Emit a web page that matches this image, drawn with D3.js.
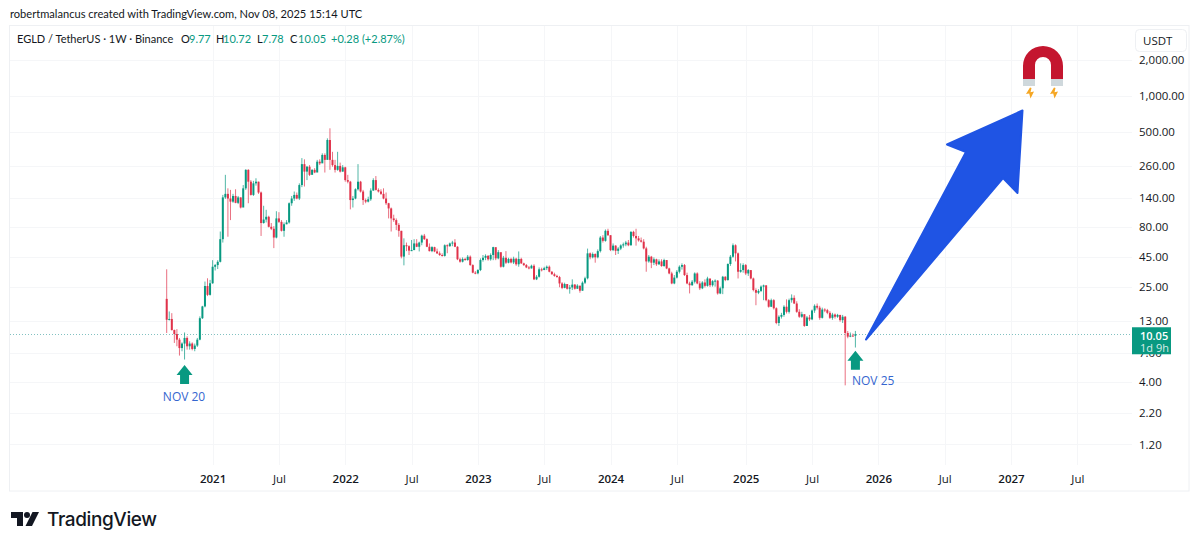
<!DOCTYPE html>
<html>
<head>
  <title>EGLD / TetherUS</title>
  <script src="https://d3js.org/d3.v7.min.js"></script>
  <style>
    html, body { margin: 0; padding: 0; background: #fff; }
    svg { display: block; font-family: "Open Sans", sans-serif; }
    .axis path, .axis line { display: none; }
    .axis text { font-family: "Open Sans", sans-serif; font-size: 11.5px; fill: #131722; }
  </style>
</head>
<body>
  <div id="chart"></div>
  <script>
    // weekly candles. open = previous close
    const firstWeek = new Date(2020, 7, 31);
    const firstOpen = 19.9;
    const closes = [
      13.3,13.5,10.9,10.1,9.06,7.7,8.4,9.36,7.97,8.4,
      7.57,8.08,9.06,13.7,17.2,25.5,21.5,26.9,37,38.2,
      40.7,63,141,151,138,130,145,127,141,116,
      168,240,191,148,185,191,155,86,92,97,
      80,77,65,94,88,74,84,87,126,138,
      148,138,179,268,232,255,218,240,228,281,
      272,320,291,427,291,263,240,259,232,252,
      197,191,134,138,165,191,158,134,130,136,
      161,197,163,158,151,138,126,114,94,91,
      83,74,45,56,55,50.5,51,58,54.4,59,
      67.4,63,54.4,50,54,49.7,47.9,46.4,45.6,56,
      55,58,59,54.4,42.7,40.8,43,42.1,44.9,38.2,
      33,32.6,34.7,42.1,44,45.6,42.7,46.4,54,43.5,
      49,37,44,40,43,40.2,43.2,38.8,43,39.5,
      38.2,36.5,35.8,37.7,29,30.5,35.2,34.7,36,37,
      33.6,32,31,30.3,26.8,24.6,26.5,24.2,24.8,26.2,
      24.2,25.7,23.3,27.2,29.6,47.9,44.4,47.3,44.4,50,
      65,61,74,68,51,55.6,50.3,52.5,55.8,57,
      59,56,72.5,67,64,61.5,60,52.7,41,44.9,
      40,42.7,38.8,41,37.5,42.1,35.8,32.5,26.8,30,
      33.6,37,38.2,31.5,26.8,25.9,27.7,32.5,26.8,24.4,
      27.3,25.6,29.5,25.9,28,28.3,22.1,24.4,30.5,28.6,
      39,44.9,56,47.9,33.6,34.7,38.2,32.5,34.7,29.5,
      23.6,22.4,23.2,25.2,25.8,19.4,17.1,19.4,16.6,12.5,
      14.1,14.6,17.1,15.5,19.4,20.3,18.2,15.5,14.1,14.8,
      11.8,13.9,13.4,15.9,17.4,16.8,13.8,16.2,16,15.2,
      13.8,14.7,14.1,14.6,13.2,14.1,10.3,9.6,9.8,9.77,10.05
    ];
    const highs = [
      35.2,15.6,15.1,11,11.1,9.36,8.6,10.4,9.66,8.77,
      8.6,8.4,9.36,14.2,17.4,27.8,29.6,28.7,42,39,
      42,73,148,218,168,163,151,165,145,141,
      179,243,243,197,194,204,191,158,120,111,
      99,86,81,108,106,91,87,91,128,145,
      158,155,185,301,294,259,263,243,248,291,
      294,330,330,441,535,340,291,340,276,263,
      255,218,194,145,168,268,194,163,138,143,
      168,204,213,168,165,168,155,127,116,101,
      94,86,74,64,59,56,62,63,63,60,
      68.7,69.7,64,58,55,54.4,52.5,49.7,47.9,57,
      57,59,61,63,55,44,44.3,44,46.4,46,
      38.8,34,35.3,43.5,46.4,47,46.4,47.9,54.4,52.5,
      51,44,45.6,50,44,44,44.9,44,49.7,44,
      40,39,37.5,38.5,38.8,31.5,36.5,36.3,37,37.9,
      37.9,34,33,31.7,31,27.5,27.2,25.5,26,29,
      26.5,26.4,25.5,27.9,30.5,52.5,48.7,48.7,47.9,51.7,
      67,68,76,77,68,58,56,54,57,59,
      61,62,73.5,74,77,67,65,63,54.4,46.4,
      45.6,44.3,43.2,42.7,42.7,43.2,42,36.3,33.6,31.5,
      34.7,38,39.5,39,33,27.7,28.6,33.2,33.2,28,
      28,29,30.5,29.2,28.6,29,28.6,25.2,31,30.8,
      39.5,46.4,58,57,48.7,39.5,39.5,39,35.4,34,
      30,24.4,24,25.8,26.2,26,19.8,20,19.8,16.9,
      14.5,15.2,17.6,19.7,20,21.7,21.3,19,16.3,15.5,
      14.7,14.3,14.6,16.2,17.9,18.2,17.4,16.8,16.6,16.4,
      15.7,15.2,15,14.9,14.6,14.6,14.3,10.7,10.4,10.2,10.72
    ];
    const lows = [
      10.3,13.1,10.8,8.5,7.97,6.66,7.24,6.17,7.47,7.47,
      7.37,7.24,7.87,8.95,13.5,16.9,21,21.2,26.6,34.4,
      35.4,40.2,59,137,66,91,127,126,124,114,
      136,163,126,146,145,177,151,67,85,87,
      79,75,53,64,86,73,66,84,85,120,
      132,136,134,172,174,197,213,228,225,230,
      263,276,228,314,240,255,228,236,228,232,
      191,185,112,116,136,161,155,122,126,128,
      132,160,161,155,148,136,122,94,73,88,
      75,66,43.5,38,50,46.4,50,51,54,49.7,
      56,62,54,49.7,49,49,47.3,45.6,45,45,
      48,54.4,55,54,42,40,40.2,41.6,41.6,37.7,
      32.6,32,32,34,40.8,42,41.6,41.6,42,42,
      42.7,36.3,36.5,39,39.5,39.5,39,37.7,37,39,
      37.5,36,35.2,35.8,28.6,28.6,30,33.8,34.7,34.7,
      33.2,31.7,30.5,30,24.9,24,24.4,23.8,22,23.6,
      23.8,24.2,22.4,23.3,26.5,29,42.7,43.5,40,43.5,
      48.7,59,60,67,50,50,46.4,47.3,51,53.5,
      55,55,55.6,65,55.6,60,59,51.7,33.6,40,
      36,38.2,37.6,38.2,37,37,35.3,32,26.4,26.4,
      29.5,32.5,35,31,26.4,22.1,25.6,26.8,26.4,23.6,
      24,24.8,25.2,25,25.2,25.2,21.6,21.8,21.8,28,
      28.3,37.6,44,41,29.5,33,33,31.5,31,29,
      23,17.6,21.8,22.7,19.4,19,16.8,17,16.2,12.2,
      11.8,13.6,14.1,15,15,18.5,18,15.2,13.8,13.8,
      11.6,11.9,13,13.2,15.2,16.2,13.3,13.6,15.4,14.8,
      13.5,13.3,13.6,13.8,12.8,12.5,3.75,9.3,9.5,9.6,7.78
    ];

    const priceTicks = [2000, 1000, 500, 260, 140, 80, 45, 25, 13, 7, 4, 2.2, 1.2];
    const lastPrice = 10.05;

    const timeTicks = [
      [new Date(2021, 0, 4), "2021"], [new Date(2021, 6, 5), "Jul"],
      [new Date(2022, 0, 3), "2022"], [new Date(2022, 6, 4), "Jul"],
      [new Date(2023, 0, 2), "2023"], [new Date(2023, 6, 3), "Jul"],
      [new Date(2024, 0, 1), "2024"], [new Date(2024, 6, 1), "Jul"],
      [new Date(2025, 0, 6), "2025"], [new Date(2025, 6, 7), "Jul"],
      [new Date(2026, 0, 5), "2026"], [new Date(2026, 6, 6), "Jul"],
      [new Date(2027, 0, 4), "2027"], [new Date(2027, 6, 5), "Jul"]
    ];

    // "NOV 20" and "NOV 25" markers: week, price under the arrow tip
    const markers = [
      { date: new Date(2020, 9, 19), tip: 5.55, label: "NOV 20" },
      { date: new Date(2025, 10, 3), tip: 7.3, label: "NOV 25" }
    ];

    const legendParts = [
      ["EGLD / TetherUS \u00b7 1W \u00b7 Binance", "#131722", 17],
      ["O", "#131722", 181], ["9.77", "#089981", 189],
      ["H", "#131722", 216], ["10.72", "#089981", 223],
      ["L", "#131722", 257], ["7.78", "#089981", 262],
      ["C", "#131722", 290], ["10.05", "#089981", 298],
      ["+0.28 (+2.87%)", "#089981", 331]
    ];

    const width = 1200, height = 547;
    const plotLeft = 10, plotRight = 1132, plotTop = 26, plotBottom = 465, frameRight = 1189, frameBottom = 491;
    const up = "#089981", down = "#e0324a";
    const labelFont = "Lato, sans-serif";

    const x = d3.scaleTime()
      .domain([firstWeek, new Date(2027, 0, 4)])
      .range([166.7, 1011]);
    const y = d3.scaleLog()
      .domain([2000, 4])
      .range([60, 382]);

    const candles = closes.map((c, i) => ({
      date: d3.timeWeek.offset(firstWeek, i),
      open: i ? closes[i - 1] : firstOpen,
      close: c,
      high: highs[i],
      low: lows[i]
    }));

    const svg = d3.select("#chart").append("svg")
      .attr("width", width)
      .attr("height", height);

    svg.append("text").attr("x", 10).attr("y", 18)
      .attr("font-family", labelFont)
      .attr("font-size", 11.1).attr("fill", "#131722")
      .text("robertmalancus created with TradingView.com, Nov 08, 2025 15:14 UTC");

    // frame
    svg.append("rect")
      .attr("x", 9.5).attr("y", 25.5)
      .attr("width", frameRight - 9.5).attr("height", frameBottom - 25.5)
      .attr("fill", "none").attr("stroke", "#eef0f3");

    // grid
    svg.append("g").selectAll("line").data(priceTicks).join("line")
      .attr("x1", plotLeft).attr("x2", plotRight)
      .attr("y1", d => Math.round(y(d)) + 0.5).attr("y2", d => Math.round(y(d)) + 0.5)
      .attr("stroke", "#f5f6f8");
    svg.append("g").selectAll("line").data(timeTicks).join("line")
      .attr("x1", d => Math.round(x(d[0])) + 0.5).attr("x2", d => Math.round(x(d[0])) + 0.5)
      .attr("y1", plotTop).attr("y2", plotBottom)
      .attr("stroke", "#f5f6f8");

    // last price line
    svg.append("line")
      .attr("x1", plotLeft).attr("x2", plotRight)
      .attr("y1", Math.round(y(lastPrice)) + 0.5).attr("y2", Math.round(y(lastPrice)) + 0.5)
      .attr("stroke", "#3f9fa0").attr("stroke-opacity", 0.65)
      .attr("stroke-dasharray", "1 2");

    // candles
    const candle = svg.append("g").selectAll("g").data(candles).join("g");
    candle.append("line")
      .attr("x1", d => x(d.date)).attr("x2", d => x(d.date))
      .attr("y1", d => y(d.high)).attr("y2", d => y(d.low))
      .attr("stroke", d => d.close >= d.open ? up : down)
      .attr("stroke-opacity", 0.7)
      .attr("stroke-width", 1);
    candle.append("rect")
      .attr("x", d => x(d.date) - 1)
      .attr("width", 2)
      .attr("y", d => Math.min(y(d.open), y(d.close)))
      .attr("height", d => Math.max(1, Math.abs(y(d.open) - y(d.close))))
      .attr("fill", d => d.close >= d.open ? up : down);

    // legend line
    svg.append("g").selectAll("text").data(legendParts).join("text")
      .attr("x", d => d[2]).attr("y", 43)
      .attr("font-family", labelFont)
      .attr("font-size", 11)
      .attr("fill", d => d[1])
      .text(d => d[0]);

    // price axis
    const priceAxis = d3.axisRight(y)
      .tickValues(priceTicks)
      .tickSize(0)
      .tickPadding(0)
      .tickFormat(d3.format(",.2f"));
    svg.append("g").attr("class", "axis")
      .attr("transform", "translate(1139,0)")
      .call(priceAxis);

    // time axis
    const labelFor = new Map(timeTicks.map(d => [+d[0], d[1]]));
    const timeAxis = d3.axisBottom(x)
      .tickValues(timeTicks.map(d => d[0]))
      .tickSize(0)
      .tickPadding(0)
      .tickFormat(d => labelFor.get(+d));
    const timeG = svg.append("g").attr("class", "axis")
      .attr("transform", "translate(0,475)")
      .call(timeAxis);
    timeG.selectAll("text")
      .attr("font-weight", (d, i) => i % 2 ? 400 : 600);

    // USDT box
    svg.append("rect")
      .attr("x", 1135.5).attr("y", 29.5).attr("width", 51).attr("height", 22).attr("rx", 4)
      .attr("fill", "#fff").attr("stroke", "#eef0f3");
    svg.append("text").attr("x", 1143).attr("y", 45)
      .attr("font-size", 11.5).attr("fill", "#131722").text("USDT");

    // price tag
    svg.append("rect")
      .attr("x", 1132).attr("y", y(lastPrice) - 7).attr("width", 39).attr("height", 27)
      .attr("fill", up);
    svg.append("text").attr("x", 1140).attr("y", y(lastPrice) + 5.5)
      .attr("font-size", 11).attr("font-weight", 600).attr("fill", "#fff")
      .text(d3.format(".2f")(lastPrice));
    svg.append("text").attr("x", 1140).attr("y", y(lastPrice) + 17.5)
      .attr("font-size", 11).attr("fill", "#fff").attr("fill-opacity", 0.85)
      .text("1d 9h");

    // green arrows under the candles
    const marker = svg.append("g").selectAll("g").data(markers).join("g")
      .attr("transform", d => `translate(${x(d.date)},${y(d.tip)})`);
    marker.append("path")
      .attr("d", "M0,0 L8,10 L4.5,10 L4.5,19 L-4.5,19 L-4.5,10 L-8,10 Z")
      .attr("fill", up);
    svg.append("text")
      .attr("x", x(markers[0].date) - 0.5).attr("y", 401)
      .attr("text-anchor", "middle").attr("font-size", 12).attr("font-weight", 500).attr("fill", "#3566cf")
      .text(markers[0].label);
    svg.append("text")
      .attr("x", 852).attr("y", 385)
      .attr("font-size", 12).attr("font-weight", 500).attr("fill", "#3566cf")
      .text(markers[1].label);

    // big blue arrow
    svg.append("path")
      .attr("d", "M866,339.5 L966,152 L947,144.5 L1022.5,110.5 L1017.5,193 L1003,178 Z")
      .attr("fill", "#1f54e4")
      .attr("stroke", "#1f54e4").attr("stroke-width", 2).attr("stroke-linejoin", "round");

    // magnet
    const magnet = svg.append("g");
    magnet.append("path")
      .attr("d", "M1023,79 L1023,66 A20,20 0 0 1 1063,66 L1063,79 L1051,79 L1051,65 A8,8 0 0 0 1035,65 L1035,79 Z")
      .attr("fill", "#c4162f");
    magnet.append("rect").attr("x", 1023).attr("y", 79).attr("width", 12).attr("height", 7).attr("fill", "#cfd8dc");
    magnet.append("rect").attr("x", 1051).attr("y", 79).attr("width", 12).attr("height", 7).attr("fill", "#cfd8dc");
    magnet.selectAll(".bolt").data([1030, 1054]).join("path")
      .attr("class", "bolt")
      .attr("transform", d => `translate(${d},93)`)
      .attr("d", "M0,-5.5 L-4,1 L-0.8,0.4 L0.5,5.5 L4,-1.5 L0.5,-0.8 L1.5,-5 Z")
      .attr("fill", "#f5a623");

    // TradingView logo
    const logo = svg.append("g").attr("fill", "#131722");
    logo.append("path").attr("d", "M11,512 L23,512 L23,526 L17,526 L17,518 L11,518 Z");
    logo.append("circle").attr("cx", 27).attr("cy", 515).attr("r", 3);
    logo.append("path").attr("d", "M32.5,512 L39,512 L32,526 L25.5,526 Z");
    logo.append("text")
      .attr("x", 47).attr("y", 526)
      .attr("font-family", "Inter, sans-serif").attr("font-size", 19).attr("font-weight", 500)
      .attr("letter-spacing", -0.4)
      .text("TradingView");
  </script>
</body>
</html>
